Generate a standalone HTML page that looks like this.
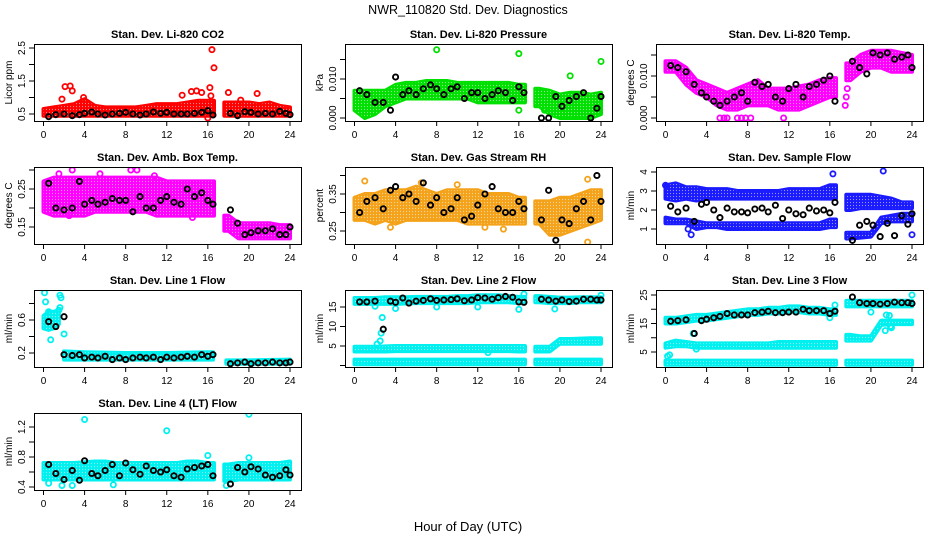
<!DOCTYPE html>
<html><head><meta charset="utf-8"><style>
body{margin:0;background:#fff}
svg{display:block;font-family:"Liberation Sans",Arial,sans-serif}
</style></head><body>
<svg id="chart" width="936" height="540" viewBox="0 0 936 540">
<defs>
<pattern id="speck" width="3" height="3" patternUnits="userSpaceOnUse"><circle cx="1.5" cy="1.5" r="0.6" fill="#fff" fill-opacity="0.55"/></pattern>
</defs>
<text x="468" y="14" text-anchor="middle" font-size="12.5">NWR_110820  Std. Dev. Diagnostics</text>
<text x="468" y="531" text-anchor="middle" font-size="13">Hour of Day (UTC)</text>
</svg>
<script>
// shared hours for black (hourly mean) points
const blackHours=[0.5,1.2,2,2.8,3.5,4,4.7,5.3,6,6.7,7.4,8,8.7,9.4,10,10.7,11.4,12,12.7,13.4,14,14.7,15.4,16,16.5,18.2,18.9,19.6,20.2,20.9,21.6,22.3,23,23.6,24];
const xTicks=[0,4,8,12,16,20,24];
const hoursPre=[0,1,2,3,4,5,6,7,8,9,10,11,12,13,14,15,16,16.6];
const hoursPost=[17.6,18,19,20,21,22,23,24];

// Panel 1: CO2
const co2Lo=[0.45,0.45,0.45,0.45,0.45,0.45,0.45,0.45,0.45,0.45,0.45,0.45,0.45,0.45,0.45,0.45,0.45,0.45,0.45,0.45,0.45,0.45,0.45,0.45,0.45];
const co2Hi=[0.65,0.7,0.75,0.8,0.95,0.75,0.7,0.7,0.7,0.7,0.75,0.8,0.8,0.8,0.85,0.9,0.9,0.95,0.85,0.85,0.85,0.8,0.85,0.75,0.7];
const co2OutX=[1.8,2.1,2.6,2.8,3.9,13.5,14.4,14.9,15.4,16.2,16.3,16.4,16.6,18.0,19.2,20.8,16.0];
const co2OutY=[0.95,1.33,1.35,1.2,1.0,1.07,1.18,1.2,1.15,1.3,1.05,2.45,1.9,1.15,0.92,1.12,0.38];
const co2Black=[0.42,0.48,0.5,0.45,0.48,0.52,0.56,0.5,0.47,0.5,0.52,0.55,0.5,0.47,0.5,0.56,0.52,0.55,0.5,0.5,0.5,0.52,0.55,0.6,0.47,0.52,0.45,0.57,0.55,0.5,0.52,0.5,0.58,0.52,0.48];
// Panel 2: pressure
const presLo=[0.002,0.0,0.001,0.003,0.004,0.005,0.005,0.005,0.005,0.005,0.005,0.005,0.004,0.004,0.004,0.004,0.004,0.004,0.003,0.001,0.0,0.0,0.0,0.0,0.001];
const presHi=[0.007,0.007,0.007,0.007,0.0085,0.009,0.009,0.0095,0.0095,0.0095,0.009,0.009,0.009,0.009,0.009,0.009,0.0085,0.008,0.0075,0.007,0.006,0.0065,0.0065,0.006,0.0065];
const presOutX=[8,16,24,21,16,18.5];
const presOutY=[0.0175,0.0165,0.0145,0.0108,0.002,0.002];
const presBlack=[0.007,0.006,0.004,0.004,0.002,0.0105,0.006,0.007,0.006,0.0075,0.0085,0.0075,0.006,0.0075,0.008,0.005,0.0065,0.0065,0.005,0.006,0.007,0.0065,0.0045,0.008,0.0065,0.0,0.0,0.0055,0.003,0.0045,0.0055,0.0065,0.0,0.0025,0.0055];
// Panel 3: Li-820 temp
const ltLo=[0.011,0.011,0.008,0.006,0.005,0.003,0.002,0.002,0.003,0.003,0.003,0.002,0.002,0.002,0.003,0.004,0.005,0.004,0.009,0.011,0.012,0.012,0.011,0.011,0.011];
const ltHi=[0.0135,0.0135,0.012,0.009,0.008,0.007,0.006,0.007,0.008,0.009,0.007,0.007,0.007,0.0075,0.008,0.009,0.0095,0.01,0.013,0.015,0.016,0.016,0.016,0.0155,0.015];
const ltOutX=[5.3,5.7,6.0,7.0,7.4,7.8,8.3,11.5,17.5,17.6,17.7];
const ltOutY=[0,0,0,0,0,0,0,0,0.003,0.005,0.007];
const ltBlack=[0.0125,0.012,0.011,0.008,0.006,0.005,0.004,0.003,0.004,0.005,0.006,0.004,0.0085,0.0075,0.008,0.005,0.004,0.007,0.008,0.005,0.0075,0.008,0.009,0.01,0.004,0.0135,0.012,0.0105,0.0155,0.015,0.0155,0.014,0.0145,0.015,0.012];
// Panel 4: amb box temp
const abLo=[0.19,0.18,0.18,0.18,0.18,0.19,0.19,0.19,0.19,0.19,0.19,0.18,0.18,0.18,0.18,0.18,0.18,0.14,0.14,0.12,0.12,0.12,0.12,0.12,0.12];
const abHi=[0.27,0.28,0.28,0.28,0.28,0.28,0.28,0.28,0.28,0.28,0.28,0.28,0.27,0.27,0.27,0.27,0.27,0.18,0.18,0.16,0.16,0.16,0.16,0.155,0.155];
const abOutX=[2.8,5.5,8.5,9.1,10.8,14.5,1.5,2.5];
const abOutY=[0.3,0.29,0.3,0.3,0.285,0.175,0.29,0.18];
const abBlack=[0.265,0.2,0.195,0.2,0.27,0.21,0.22,0.21,0.215,0.225,0.22,0.22,0.19,0.23,0.2,0.2,0.22,0.23,0.215,0.21,0.25,0.23,0.24,0.22,0.21,0.195,0.16,0.13,0.135,0.14,0.14,0.145,0.13,0.13,0.15];
// Panel 5: gas stream RH
const rhLo=[0.28,0.28,0.27,0.28,0.27,0.28,0.28,0.28,0.28,0.28,0.28,0.27,0.27,0.27,0.27,0.27,0.27,0.28,0.27,0.24,0.24,0.25,0.26,0.27,0.28];
const rhHi=[0.34,0.35,0.35,0.36,0.36,0.36,0.37,0.36,0.35,0.36,0.36,0.36,0.36,0.35,0.35,0.35,0.34,0.33,0.33,0.33,0.34,0.34,0.35,0.36,0.36];
const rhOutX=[1,6.5,10,22.7,22.7,12.7,14.5,3.5];
const rhOutY=[0.385,0.38,0.375,0.39,0.22,0.26,0.255,0.26];
const rhBlack=[0.30,0.33,0.34,0.31,0.36,0.37,0.34,0.35,0.33,0.38,0.32,0.34,0.3,0.31,0.34,0.28,0.29,0.32,0.35,0.37,0.31,0.3,0.3,0.33,0.31,0.28,0.36,0.225,0.28,0.27,0.31,0.33,0.28,0.40,0.33];
// Panel 6: sample flow
const sfUpLo=[2.6,2.5,2.6,2.5,2.6,2.6,2.6,2.6,2.6,2.6,2.6,2.6,2.6,2.6,2.6,2.6,2.6,2.3,2.0,2.1,2.1,2.1,2.1,2.1,2.1];
const sfUpHi=[3.3,3.4,3.2,3.2,3.1,3.1,3.1,3.0,3.0,3.0,3.0,3.0,3.1,3.1,3.1,3.1,3.3,2.8,2.8,2.8,2.8,2.7,2.6,2.4,2.4];
const sfDnLo=[1.3,1.3,1.3,1.0,1.1,1.1,1.0,1.0,1.0,1.0,1.0,1.0,1.0,1.0,1.0,1.0,1.1,0.6,0.5,0.55,0.6,1.3,1.4,1.4,1.4];
const sfDnHi=[1.6,1.5,1.5,1.4,1.3,1.3,1.3,1.3,1.3,1.3,1.3,1.3,1.3,1.3,1.3,1.3,1.5,0.9,0.8,0.8,0.8,1.6,1.7,1.8,1.8];
const sfOutX=[16.3,21.2,24,2.5,0,2.2];
const sfOutY=[3.9,4.05,0.7,0.7,3.3,1.0];
const sfBlack=[2.2,1.9,2.1,1.4,2.3,2.4,2.0,1.6,2.1,1.9,1.9,1.85,2.05,2.1,1.9,2.25,1.55,2.0,1.8,1.75,2.1,1.95,2.0,1.85,2.4,0.4,1.2,1.4,1.2,0.6,1.3,0.65,1.7,1.25,1.8];
// Panel 7: line 1 flow
const l1aH=[0,0.5,1,1.5], l1aLo=[0.5,0.48,0.5,0.55], l1aHi=[0.65,0.7,0.7,0.72];
const l1bH=[2,4,8,12,16,16.5], l1bLo=[0.12,0.12,0.12,0.12,0.12,0.12], l1bHi=[0.22,0.21,0.2,0.2,0.21,0.21];
const l1cH=[17.8,20,24], l1cLo=[0.07,0.07,0.07], l1cHi=[0.11,0.11,0.12];
const l1OutX=[0.1,0.2,0.5,0.7,1.5,1.6,1.7,1.6,2.0];
const l1OutY=[0.93,0.82,0.7,0.36,0.72,0.75,0.87,0.9,0.43];
const l1Black=[0.58,0.52,0.18,0.17,0.18,0.14,0.15,0.14,0.16,0.12,0.14,0.12,0.14,0.15,0.14,0.15,0.12,0.15,0.14,0.15,0.16,0.15,0.18,0.16,0.18,0.07,0.08,0.09,0.07,0.08,0.08,0.09,0.08,0.08,0.09];
// Panel 8: line 2 flow
const l2UpLo=[15.8,15.8,15.8,15.8,15.8,15.9,16,16,16,16,16,16,16.2,16.2,16.2,16.2,16,16,16.2,16,16,16,16.2,16.2,16.2];
const l2UpHi=[17.3,17.3,17.3,17.5,17.5,17.5,17.6,17.6,17.6,17.6,17.8,17.8,18,18,18,17.8,17.6,17.8,17.8,17.6,17.4,17.4,17.5,17.5,17.5];
const l2MidLo=[3.6,3.6,3.6,3.6,3.7,3.7,3.7,3.7,3.7,3.7,3.7,3.7,3.7,3.7,3.7,3.7,3.6,3.6,3.6,3.6,5.6,5.6,5.6,5.6,5.6];
const l2MidHi=[4.8,4.8,4.8,4.9,5,5,5,5,5,5,5,5,5,5,5,5,5,4.8,4.8,4.8,6.8,6.8,6.9,7,7];
const l2LoLo=[0.3,0.3,0.3,0.3,0.3,0.3,0.3,0.3,0.3,0.3,0.3,0.3,0.3,0.3,0.3,0.3,0.3,0.3,0.3,0.3,0.3,0.3,0.3,0.3,0.3];
const l2LoHi=[1.5,1.5,1.5,1.5,1.5,1.5,1.5,1.5,1.5,1.5,1.5,1.5,1.5,1.5,1.5,1.5,1.5,1.5,1.5,1.5,1.5,1.5,1.5,1.5,1.5];
const l2OutX=[2,2.2,2.5,2.6,2.7,4,8,12,16,16.5,19.5,24,13];
const l2OutY=[15.2,5.5,6.3,8.3,12.3,14.6,15,15,14.4,18.3,14.5,18,3.3];
const l2Black=[16.3,16.3,16.5,9.3,16.5,16.2,17.3,16.0,16.5,16.7,17.1,16.7,16.8,16.9,17.1,16.6,16.8,17.4,17.3,17.0,17.4,17.7,17.5,16.3,16.2,17.0,16.8,16.5,16.8,16.4,16.5,17.0,17.0,16.8,16.8];
// Panel 9: line 3 flow
const l3UpLo=[15,15,15.5,16,16,16.5,17,17.5,18,18,18.5,18.5,19,19,18.5,18.5,18,23,21,21,21,21,21,21,21];
const l3UpHi=[17,17,17.5,18,18,18.5,19,19.5,20,20,20.5,20.5,21,21,20.5,20.5,20,25,23,23,23,23,23,23,23];
const l3MidLo=[6.5,7,7,6.5,6.5,6.5,6.5,6.5,6.5,6.5,6.5,6.5,6.5,6.5,6.5,6.5,6.5,9,9,9,9,14.5,14.8,14.8,14.8];
const l3MidHi=[8,9,8.5,8,8,8,8,8,8,8,8,8.5,8.5,8.5,8.5,8.5,8.5,11,11,10.5,10.5,16,16,16,16];
const l3LoLo=[0.5,0.5,0.5,0.5,0.5,0.5,0.5,0.5,0.5,0.5,0.5,0.5,0.5,0.5,0.5,0.5,0.5,0.5,0.5,0.5,0.5,0.5,0.5,0.5,0.5];
const l3LoHi=[2,2,2,2,2,2,2,2,2,2,2,2,2,2,2,2,2,2,2,2,2,2,2,2,2];
const l3OutX=[0.2,0.4,2.7,3,16,16.5,20,21.5,21.8,22,21.4,21.9,24];
const l3OutY=[3.5,4,11.5,6,17,21.5,19,18,17.8,13.5,12.5,14,25];
const l3Black=[15.8,16,16.3,11.5,16,16.5,17,17.5,18.5,18,18,18,18.8,19,19.3,18.8,18.8,19,19,20,19.5,19.5,19.5,18.5,19.3,24.3,22.3,22,22,21.8,22,22.5,22.3,22.3,22];
// Panel 10: line 4 flow
const l4Lo=[0.5,0.5,0.5,0.5,0.5,0.5,0.5,0.5,0.5,0.5,0.5,0.5,0.5,0.5,0.5,0.5,0.5,0.5,0.48,0.5,0.5,0.5,0.5,0.5,0.5];
const l4Hi=[0.72,0.72,0.72,0.72,0.73,0.74,0.74,0.72,0.72,0.72,0.72,0.72,0.72,0.72,0.74,0.74,0.72,0.72,0.7,0.72,0.72,0.72,0.72,0.72,0.74];
const l4OutX=[4,12,20,0.5,16,20,1.8,2.8,6.8,17.8];
const l4OutY=[1.3,1.15,1.37,0.45,0.82,0.79,0.42,0.42,0.43,0.42];
const l4Black=[0.7,0.58,0.5,0.62,0.49,0.75,0.58,0.55,0.62,0.7,0.55,0.72,0.63,0.57,0.68,0.62,0.6,0.63,0.55,0.53,0.64,0.66,0.68,0.7,0.55,0.44,0.66,0.6,0.67,0.64,0.56,0.53,0.55,0.63,0.56];

const NS='http://www.w3.org/2000/svg';
const svg=document.getElementById('chart');
function mk(tag,attrs,parent){const e=document.createElementNS(NS,tag);for(const k in attrs)e.setAttribute(k,attrs[k]);(parent||svg).appendChild(e);return e;}
function hourlyBands(lo,hi){
  const preLo=lo.slice(0,17).concat([lo[16]]), preHi=hi.slice(0,17).concat([hi[16]]);
  const postLo=[lo[18]].concat(lo.slice(18)), postHi=[hi[18]].concat(hi.slice(18));
  return [{h:hoursPre,lo:preLo,hi:preHi},{h:hoursPost,lo:postLo,hi:postHi}];
}
const cols=[34,345,656], rows=[44,167,290,413], W=267, H=77;
function panel(o){
  const L=cols[o.col], T=rows[o.row], R=L+W, B=T+H;
  const g=mk('g',{});
  
  
  const xs=h=>L+9.5+h*(246.5/24);
  const ys=v=>o.p1+(v-o.v1)*(o.p2-o.p1)/(o.v2-o.v1);
  const clip='clip'+o.col+o.row;
  const cp=mk('clipPath',{id:clip},g); mk('rect',{x:L,y:T,width:W,height:H},cp);
  const plot=mk('g',{'clip-path':'url(#'+clip+')'},g);
  o.bands.forEach(b=>{
    let pts=[];
    for(let i=0;i<b.h.length;i++)pts.push(xs(b.h[i]).toFixed(1)+','+ys(b.hi[i]).toFixed(1));
    for(let i=b.h.length-1;i>=0;i--)pts.push(xs(b.h[i]).toFixed(1)+','+ys(b.lo[i]).toFixed(1));
    const p=mk('polygon',{points:pts.join(' '),fill:o.color,stroke:o.color,'stroke-width':4,'stroke-linejoin':'round'},plot);
    
    
    const s=mk('polygon',{points:pts.join(' '),fill:'url(#speck)',stroke:'none'},plot);
    
    
  });
  for(let i=0;i<o.outX.length;i++){
    const c=mk('circle',{cx:xs(o.outX[i]),cy:ys(o.outY[i]),r:2.6,fill:'none',stroke:o.color,'stroke-width':1.8},plot);
    
    
  }
  for(let i=0;i<blackHours.length;i++){
    const c=mk('circle',{cx:xs(blackHours[i]),cy:ys(o.black[i]),r:2.6,fill:'none',stroke:'#000','stroke-width':1.9},plot);
    
    
  }
  if(o.extraBX){for(let i=0;i<o.extraBX.length;i++){
    const c=mk('circle',{cx:xs(o.extraBX[i]),cy:ys(o.extraBY[i]),r:2.6,fill:'none',stroke:'#000','stroke-width':1.9},plot);
    
    
  }}
  const box=mk('rect',{x:L+0.5,y:T+0.5,width:W,height:H,fill:'none',stroke:'#000','stroke-width':1},g);
  
  
  const t=mk('text',{x:L+W/2,y:T-6,'text-anchor':'middle','font-size':11,'font-weight':'bold'},g);
  t.textContent=o.title;
  
  
  mk('line',{x1:xs(0),x2:xs(24),y1:B+0.5,y2:B+0.5,stroke:'#000'},g);
  xTicks.forEach(v=>{
    mk('line',{x1:xs(v),x2:xs(v),y1:B,y2:B+5,stroke:'#000'},g);
    const tl=mk('text',{x:xs(v),y:B+17,'text-anchor':'middle','font-size':10},g);
    tl.textContent=v;
    
    
  });
  o.yt.forEach((v,i)=>{
    const y=ys(v);
    mk('line',{x1:L-5,x2:L,y1:y,y2:y,stroke:'#000'},g);
    if(o.yl[i]){
      const tl=mk('text',{x:L-9,y:y,'text-anchor':'middle','font-size':10,transform:'rotate(-90 '+(L-9)+' '+y+')'},g);
      tl.textContent=o.yl[i];
      
      
    }
  });
  const yt=mk('text',{x:L-22,y:T+H/2,'text-anchor':'middle','font-size':10,transform:'rotate(-90 '+(L-22)+' '+(T+H/2)+')'},g);
  yt.textContent=o.ylab;
  
  
}
panel({name:'co2-panel',col:0,row:0,title:'Stan. Dev. Li-820 CO2',ylab:'Licor ppm',color:'#ff0000',v1:0.5,p1:114,v2:2.5,p2:48,yt:[0.5,1,1.5,2,2.5],yl:['0.5','','1.5','','2.5'],bands:hourlyBands(co2Lo,co2Hi),outX:co2OutX,outY:co2OutY,black:co2Black});
panel({name:'pressure-panel',col:1,row:0,title:'Stan. Dev. Li-820 Pressure',ylab:'kPa',color:'#00e000',v1:0,p1:118,v2:0.01,p2:79,yt:[0,0.005,0.01,0.015],yl:['0.000','','0.010',''],bands:hourlyBands(presLo,presHi),outX:presOutX,outY:presOutY,black:presBlack});
panel({name:'licor-temp-panel',col:2,row:0,title:'Stan. Dev. Li-820 Temp.',ylab:'degrees C',color:'#ff00ff',v1:0,p1:118,v2:0.01,p2:76,yt:[0,0.005,0.01,0.015],yl:['0.000','','0.010',''],bands:hourlyBands(ltLo,ltHi),outX:ltOutX,outY:ltOutY,black:ltBlack});
panel({name:'box-temp-panel',col:0,row:1,title:'Stan. Dev. Amb. Box Temp.',ylab:'degrees C',color:'#ff00ff',v1:0.15,p1:227,v2:0.25,p2:189,yt:[0.15,0.2,0.25,0.3],yl:['0.15','','0.25',''],bands:hourlyBands(abLo,abHi),outX:abOutX,outY:abOutY,black:abBlack});
panel({name:'rh-panel',col:1,row:1,title:'Stan. Dev. Gas Stream RH',ylab:'percent',color:'#f4a21a',v1:0.25,p1:231,v2:0.35,p2:194,yt:[0.25,0.3,0.35,0.4],yl:['0.25','','0.35',''],bands:hourlyBands(rhLo,rhHi),outX:rhOutX,outY:rhOutY,black:rhBlack});
panel({name:'sample-flow-panel',col:2,row:1,title:'Stan. Dev. Sample Flow',ylab:'ml/min',color:'#1a1aff',v1:1,p1:229,v2:4,p2:172,yt:[1,2,3,4],yl:['1','2','3','4'],bands:hourlyBands(sfUpLo,sfUpHi).concat(hourlyBands(sfDnLo,sfDnHi)),outX:sfOutX,outY:sfOutY,black:sfBlack});
panel({name:'line1-flow-panel',col:0,row:2,title:'Stan. Dev. Line 1 Flow',ylab:'ml/min',color:'#00f0f0',v1:0.2,p1:353,v2:0.6,p2:320,yt:[0.2,0.4,0.6,0.8],yl:['0.2','','0.6',''],bands:[{h:l1aH,lo:l1aLo,hi:l1aHi},{h:l1bH,lo:l1bLo,hi:l1bHi},{h:l1cH,lo:l1cLo,hi:l1cHi}],outX:l1OutX,outY:l1OutY,black:l1Black,extraBX:[2.0],extraBY:[0.64]});
panel({name:'line2-flow-panel',col:1,row:2,title:'Stan. Dev. Line 2 Flow',ylab:'ml/min',color:'#00f0f0',v1:5,p1:346,v2:15,p2:307,yt:[0,5,10,15],yl:['','5','10','15'],bands:hourlyBands(l2UpLo,l2UpHi).concat(hourlyBands(l2MidLo,l2MidHi),hourlyBands(l2LoLo,l2LoHi)),outX:l2OutX,outY:l2OutY,black:l2Black});
panel({name:'line3-flow-panel',col:2,row:2,title:'Stan. Dev. Line 3 Flow',ylab:'ml/min',color:'#00f0f0',v1:5,p1:352,v2:25,p2:295,yt:[5,10,15,20,25],yl:['5','','15','','25'],bands:hourlyBands(l3UpLo,l3UpHi).concat(hourlyBands(l3MidLo,l3MidHi),hourlyBands(l3LoLo,l3LoHi)),outX:l3OutX,outY:l3OutY,black:l3Black});
panel({name:'line4-flow-panel',col:0,row:3,title:'Stan. Dev. Line 4 (LT) Flow',ylab:'ml/min',color:'#00f0f0',v1:0.4,p1:487,v2:1.2,p2:427,yt:[0.4,0.6,0.8,1.0,1.2],yl:['0.4','','0.8','','1.2'],bands:hourlyBands(l4Lo,l4Hi),outX:l4OutX,outY:l4OutY,black:l4Black});
</script>
</body></html>
